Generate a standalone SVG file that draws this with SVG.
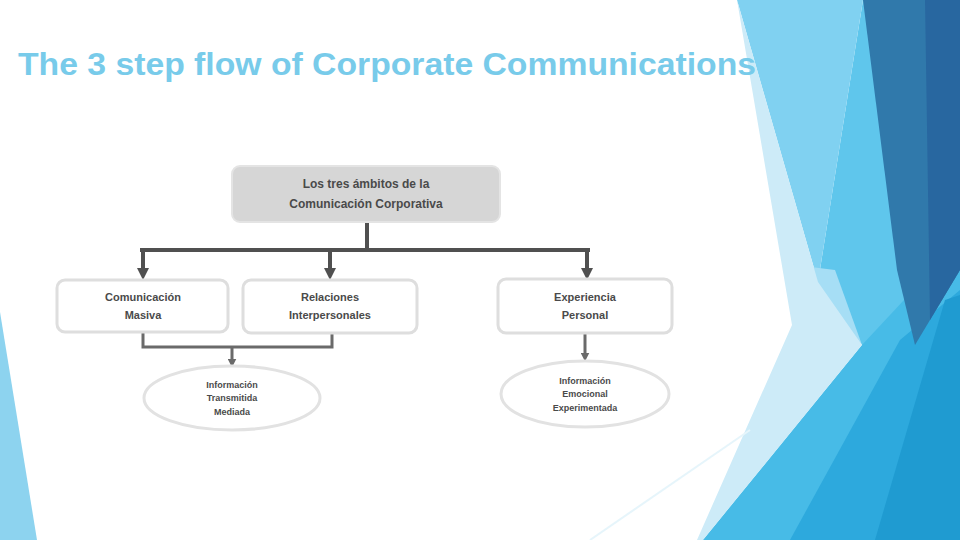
<svg xmlns="http://www.w3.org/2000/svg" width="960" height="540" viewBox="0 0 960 540">
<defs>
<style>
.title{font-family:"Liberation Sans","DejaVu Sans",sans-serif;font-size:31px;font-weight:bold;fill:#78cbea}
.t{font-family:"Liberation Sans","DejaVu Sans",sans-serif;font-weight:bold;fill:#4a4a4a;text-anchor:middle}
.box{fill:#ffffff;stroke:#dedede;stroke-width:3}
.ell{fill:#ffffff;stroke:#e2e2e2;stroke-width:3}
.main{stroke:#505050;stroke-width:4;fill:none}
.sub{stroke:#6a6a6a;stroke-width:3;fill:none}
</style>
<marker id="ah" viewBox="0 0 10 10" refX="5" refY="5" markerWidth="3" markerHeight="3" orient="auto">
<path d="M0,0 L10,5 L0,10 z" fill="#505050"/>
</marker>
<marker id="ah2" viewBox="0 0 10 10" refX="5" refY="5" markerWidth="3" markerHeight="3" orient="auto">
<path d="M0,0 L10,5 L0,10 z" fill="#6a6a6a"/>
</marker>
</defs>
<rect width="960" height="540" fill="#ffffff"/>
<g id="decoration">
<polygon points="0,312 37,540 0,540" fill="#8dd3ef"/>
<polygon points="863,0 960,0 960,540 703,540 862,345 818,282" fill="#5fc6ec"/>
<polygon points="862,345 960,240 960,540 703,540" fill="#47bbe7"/>
<polygon points="900,340 960,290 960,540 790,540" fill="#2da9dd"/>
<polygon points="945,300 960,295 960,540 875,540" fill="#1f9bd1"/>
<polygon points="737,0 863,0 818,282" fill="#80d1f1"/>
<polygon points="795,265 835,270 862,345" fill="#a6def5"/>
<polygon points="737,0 818,282 862,345 703,540 697,540 792,325" fill="#cdebf8"/>
<polygon points="863,0 960,0 960,270 915,345 897,270" fill="#3079ab"/>
<polygon points="925,0 960,0 960,270 930,320" fill="#2867a0"/>
<line x1="590" y1="540" x2="750" y2="430" stroke="#e6f5fb" stroke-width="2"/>
</g>
<text class="title" x="18" y="75" textLength="738" lengthAdjust="spacingAndGlyphs">The 3 step flow of Corporate Communications</text>
<g id="connectors">
<line class="main" x1="367" y1="222" x2="367" y2="250"/>
<line class="main" x1="140" y1="250" x2="590" y2="250"/>
<line class="main" x1="143" y1="250" x2="143" y2="274" marker-end="url(#ah)"/>
<line class="main" x1="330" y1="250" x2="330" y2="274" marker-end="url(#ah)"/>
<line class="main" x1="587" y1="250" x2="587" y2="274" marker-end="url(#ah)"/>
<polyline class="sub" points="143,333 143,347 332,347 332,333"/>
<line class="sub" x1="232" y1="347" x2="232" y2="363" marker-end="url(#ah2)"/>
<line class="sub" x1="585" y1="334" x2="585" y2="357" marker-end="url(#ah2)"/>
</g>
<g id="node-top">
<rect x="232" y="166" width="268" height="56" rx="8" fill="#d6d6d6" stroke="#e4e4e4" stroke-width="2"/>
<text class="t" x="366" y="188" font-size="12">Los tres ámbitos de la</text>
<text class="t" x="366" y="208" font-size="12">Comunicación Corporativa</text>
</g>
<g id="node-masiva">
<rect class="box" x="57" y="280" width="171" height="52" rx="8"/>
<text class="t" x="143" y="301" font-size="11">Comunicación</text>
<text class="t" x="143" y="319" font-size="11">Masiva</text>
</g>
<g id="node-relaciones">
<rect class="box" x="243" y="280" width="174" height="53" rx="8"/>
<text class="t" x="330" y="301" font-size="11">Relaciones</text>
<text class="t" x="330" y="319" font-size="11">Interpersonales</text>
</g>
<g id="node-experiencia">
<rect class="box" x="498" y="279" width="174" height="54" rx="8"/>
<text class="t" x="585" y="301" font-size="11">Experiencia</text>
<text class="t" x="585" y="319" font-size="11">Personal</text>
</g>
<g id="ellipse-left">
<ellipse class="ell" cx="232" cy="398" rx="88" ry="32"/>
<text class="t" x="232" y="388" font-size="9">Información</text>
<text class="t" x="232" y="401" font-size="9">Transmitida</text>
<text class="t" x="232" y="415" font-size="9">Mediada</text>
</g>
<g id="ellipse-right">
<ellipse class="ell" cx="585" cy="394" rx="84" ry="33"/>
<text class="t" x="585" y="384" font-size="9">Información</text>
<text class="t" x="585" y="397" font-size="9">Emocional</text>
<text class="t" x="585" y="411" font-size="9">Experimentada</text>
</g>
</svg>
